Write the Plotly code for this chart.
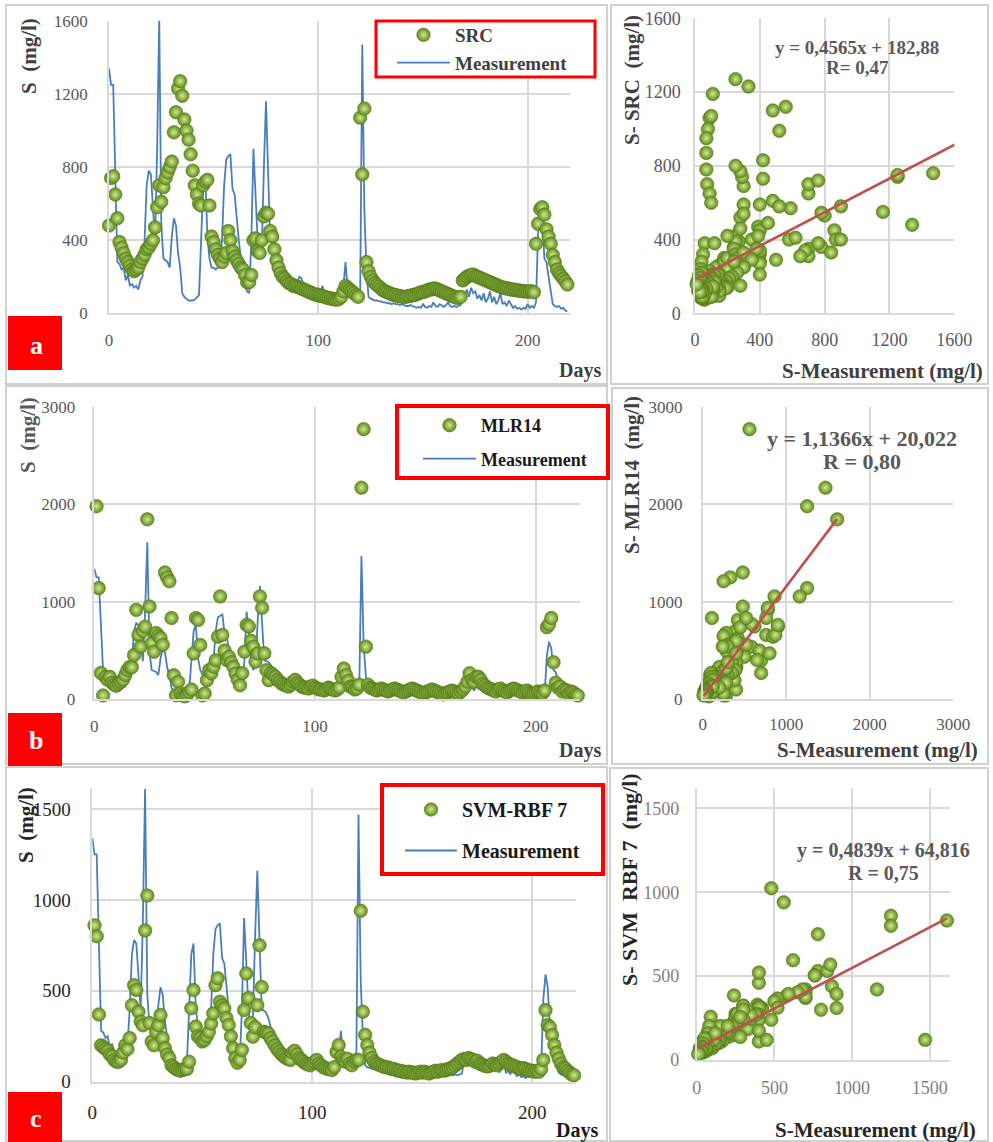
import plotly.graph_objects as go

# ---------------- data ----------------
days = list(range(220))

measurement = [
    1340, 1250, 1250, 700, 280, 270, 240, 250, 180, 210,
    150, 160, 140, 150, 130, 180, 200, 400, 700, 780,
    760, 580, 390, 900, 1610, 480, 300, 290, 280, 250,
    420, 520, 480, 330, 250, 110, 90, 80, 70, 70,
    70, 75, 90, 100, 400, 700, 760, 420, 300, 250,
    250, 240, 250, 260, 400, 700, 840, 860, 870, 680,
    650, 500, 400, 300, 200, 150, 120, 110, 400, 900,
    620, 400, 300, 350, 800, 1160, 780, 400, 390, 380,
    350, 300, 260, 230, 210, 190, 170, 160, 150, 150,
    170, 200, 190, 150, 130, 120, 110, 110, 100, 110,
    140, 120, 150, 100, 80, 70, 60, 60, 55, 60,
    60, 70, 150, 280, 130, 110, 100, 110, 100, 100,
    100, 1470, 560, 240, 90, 80, 75, 70, 70, 65,
    65, 60, 60, 55, 55, 50, 55, 50, 50, 45,
    50, 45, 40, 40, 45, 40, 35, 30, 35, 30,
    50, 35, 30, 40, 35, 60, 40, 35, 50, 40,
    35, 45, 60, 40, 35, 40, 35, 40, 45, 120,
    100, 130, 90, 140, 110, 120, 80, 100, 70, 110,
    60, 80, 120, 60, 90, 50, 70, 110, 50, 60,
    40, 70, 50, 30, 40, 25, 30, 20, 30, 25,
    50, 30, 40, 30, 60, 450, 590, 520, 300, 280,
    200, 120, 50, 40, 35, 40, 25, 30, 15, 10,
]

src = [
    480, 740, 750, 650, 520, 390, 360, 330, 300, 280,
    260, 240, 230, 240, 250, 280, 300, 320, 350, 360,
    380, 400, 470, 580, 700, 610, 690, 740, 770, 800,
    830, 990, 1100, 1230, 1270, 1190, 1060, 1000, 950, 870,
    780, 700, 650, 600, 590, 700, 720, 730, 590, 420,
    390, 350, 320, 300, 280, 310, 330, 450, 400, 340,
    310, 290, 270, 250, 240, 210, 170, 170, 210, 400,
    410, 340, 330, 400, 530, 550, 545, 450, 420, 350,
    290, 250, 220, 200, 190, 175, 165, 160, 150, 150,
    145, 140, 135, 130, 125, 120, 115, 110, 105, 100,
    100, 95, 95, 90, 85, 85, 80, 80, 75, 75,
    80, 90, 120, 150, 140, 130, 120, 110, 100, 90,
    1070, 760, 1120, 280, 230, 200, 180, 165, 155, 145,
    135, 125, 120, 115, 110, 105, 100, 100, 95, 95,
    90, 90, 90, 95, 95, 100, 100, 105, 110, 115,
    115, 120, 125, 130, 130, 135, 135, 130, 125, 120,
    115, 110, 105, 100, 95, 90, 85, 85, 90, 180,
    190, 200, 205, 210, 212, 205, 200, 195, 190, 185,
    180, 175, 170, 165, 160, 155, 150, 145, 140, 140,
    135, 135, 130, 130, 128, 125, 125, 122, 120, 120,
    118, 120, 120, 115, 380, 490, 570, 580, 540, 460,
    420, 380, 320, 280, 240, 220, 205, 190, 175, 157,
]

mlr14 = [
    None, 1980, 1140, 270, 40, 230, 200, 230, 170, 150,
    140, 160, 180, 200, 250, 300, 330, 330, 453, 917,
    660, 540, 700, 745, 1845, 951, 577, 488, 680, 650,
    628, 560, 1300, 1250, 1210, 834, 247, 41, 179, 60,
    40, 30, 50, 76, 100, 470, 834, 814, 557, 40,
    60, 196, 299, 268, 333, 400, 642, 1055, 660, 500,
    402, 436, 380, 333, 265, 200, 144, 268, 488, 763,
    747, 600, 540, 385, 471, 1055, 938, 471, 299, 196,
    270, 250, 230, 200, 180, 160, 150, 140, 130, 150,
    180, 200, 170, 150, 130, 120, 120, 110, 130, 140,
    120, 110, 100, 100, 90, 100, 120, 110, 100, 90,
    100, 120, 230, 316, 250, 190, 130, 120, 100, 110,
    150, 2170, 2770, 540, 150, 120, 110, 100, 90, 100,
    110, 100, 90, 80, 90, 100, 110, 100, 90, 80,
    70, 80, 90, 100, 110, 100, 90, 80, 70, 60,
    70, 80, 90, 100, 90, 80, 70, 60, 50, 60,
    70, 80, 90, 80, 70, 60, 80, 100, 130, 180,
    268, 200, 180, 230, 230, 200, 160, 140, 120, 110,
    100, 90, 80, 100, 110, 90, 80, 70, 90, 100,
    110, 100, 90, 80, 70, 80, 90, 70, 60, 60,
    70, 80, 70, 60, 90, 740, 770, 834, 380, 170,
    120, 130, 80, 100, 90, 60, 80, 70, 50, 40,
]

svm_rbf7 = [
    None, 860, 800, 370, 200, 190, 180, 170, 150, 140,
    120, 110, 110, 120, 160, 200, 180, 240, 421, 531,
    505, 385, 330, 310, 832, 1024, 323, 221, 200, 275,
    310, 367, 240, 185, 150, 130, 90, 80, 70, 65,
    60, 65, 70, 70, 110, 404, 504, 303, 250, 240,
    221, 230, 250, 275, 320, 376, 531, 569, 440, 420,
    404, 350, 312, 250, 185, 130, 104, 120, 175, 394,
    595, 460, 323, 248, 300, 421, 750, 521, 275, 270,
    265, 240, 221, 200, 180, 165, 150, 140, 130, 125,
    120, 160, 170, 150, 130, 120, 110, 100, 95, 90,
    100, 110, 120, 100, 90, 80, 75, 70, 70, 65,
    80, 164, 202, 137, 120, 110, 126, 100, 90, 110,
    120, 120, 940, 385, 258, 202, 160, 130, 110, 100,
    95, 90, 85, 80, 80, 75, 70, 70, 65, 60,
    60, 55, 55, 50, 55, 50, 50, 45, 50, 55,
    50, 55, 50, 45, 50, 55, 60, 55, 60, 65,
    60, 65, 70, 75, 80, 90, 100, 110, 120, 125,
    120, 130, 125, 120, 110, 115, 100, 95, 90, 85,
    85, 90, 100, 95, 90, 100, 110, 120, 110, 100,
    95, 90, 85, 80, 75, 70, 75, 70, 65, 60,
    60, 55, 60, 55, 70, 120, 394, 312, 300, 257,
    202, 160, 128, 100, 80, 73, 60, 50, 40, 36,
]

# printed trend-line equations (slope, intercept) and labels
fit_src = (0.4565, 182.88)
fit_mlr = (1.1366, 20.022)
fit_svm = (0.4839, 64.816)
eq_src = ["y = 0,4565x + 182,88", "R= 0,47"]
eq_mlr = ["y = 1,1366x + 20,022", "R = 0,80"]
eq_svm = ["y = 0,4839x + 64,816", "R = 0,75"]

# ---------------- helpers ----------------
W, H = 993, 1142
SERIF = "Liberation Serif"


def px(x):
    return x / W


def py(y):
    return 1 - y / H


GREEN = dict(size=13.5, color="#5F8A1C",
             gradient=dict(type="radial", color="#D2EA8E"),
             line=dict(width=0.6, color="#557A1A"))
BLUE = "#4A7EBB"
RED = "#C0504D"
GRID = "#D9D9D9"

fig = go.Figure()


def ts_panel(ax, model, name, legend):
    xa = "x" if ax == 1 else f"x{ax}"
    ya = "y" if ax == 1 else f"y{ax}"
    fig.add_trace(go.Scatter(x=days, y=measurement, mode="lines", name="Measurement",
                             line=dict(color=BLUE, width=1.8), xaxis=xa, yaxis=ya,
                             legend=legend, legendrank=2, legendgroup=legend + "m"))
    fig.add_trace(go.Scatter(x=days, y=model, mode="markers", name=name, marker=GREEN,
                             xaxis=xa, yaxis=ya, legend=legend, legendrank=1,
                             legendgroup=legend + "s", cliponaxis=False))


def sc_panel(ax, model, fit):
    xa, ya = f"x{ax}", f"y{ax}"
    fig.add_trace(go.Scatter(x=measurement, y=model, mode="markers", marker=GREEN,
                             xaxis=xa, yaxis=ya, showlegend=False, cliponaxis=False))
    xs = [min(measurement), max(measurement)]
    fig.add_trace(go.Scatter(x=xs, y=[fit[0] * v + fit[1] for v in xs], mode="lines",
                             line=dict(color=RED, width=2.6), xaxis=xa, yaxis=ya,
                             showlegend=False, cliponaxis=False))


ts_panel(1, src, "SRC", "legend")
sc_panel(2, src, fit_src)
ts_panel(3, mlr14, "MLR14", "legend2")
sc_panel(4, mlr14, fit_mlr)
ts_panel(5, svm_rbf7, "SVM-RBF 7", "legend3")
sc_panel(6, svm_rbf7, fit_svm)


def axis(domain, rng, dtick, anchor, fs, color, tlen):
    return dict(domain=domain, range=rng, dtick=dtick, tick0=0, showgrid=True,
                gridcolor=GRID, gridwidth=1.5, zeroline=False, showline=True,
                linecolor=GRID, linewidth=1.5, ticks="outside", ticklen=tlen,
                tickcolor="rgba(0,0,0,0)", anchor=anchor, fixedrange=True,
                automargin=False,
                tickfont=dict(family=SERIF, size=fs, color=color))


lay = {}
# row a
lay["xaxis"] = axis([px(109), px(569.5)], [0, 220], 100, "y", 17, "#595959", 11)
lay["yaxis"] = axis([py(313.3), py(20.8)], [0, 1600], 400, "x", 17, "#595959", 16)
lay["xaxis2"] = axis([px(695), px(954.3)], [0, 1600], 400, "y2", 18, "#595959", 9)
lay["yaxis2"] = axis([py(313.3), py(18.3)], [0, 1600], 400, "x2", 18, "#595959", 9)
# row b
lay["xaxis3"] = axis([px(94.3), px(580)], [0, 220], 100, "y3", 17, "#595959", 11)
lay["yaxis3"] = axis([py(699.3), py(406.7)], [0, 3000], 1000, "x3", 17, "#595959", 14)
lay["xaxis4"] = axis([px(702.7), px(953.3)], [0, 3000], 1000, "y4", 17, "#595959", 9)
lay["yaxis4"] = axis([py(699.3), py(406.7)], [0, 3000], 1000, "x4", 17, "#595959", 15)
# row c
lay["xaxis5"] = axis([px(92.3), px(576.3)], [0, 220], 100, "y5", 19, "#262626", 13)
lay["yaxis5"] = axis([py(1081.7), py(788.1)], [0, 1615], 500, "x5", 19, "#262626", 16)
lay["xaxis6"] = axis([px(696.7), px(950)], [0, 1630], 500, "y6", 18, "#7F7F7F", 11)
lay["yaxis6"] = axis([py(1060), py(788.3)], [0, 1620], 500, "x6", 18, "#7F7F7F", 12)

shapes = []
# panel borders
for (x0, x1, y0, y1) in [(6, 607, 5, 384), (611, 988, 5, 384),
                         (6, 607, 386, 764), (612, 988, 388, 764),
                         (6, 607, 767, 1141), (610, 988, 768, 1141)]:
    shapes.append(dict(type="rect", xref="paper", yref="paper", x0=px(x0), x1=px(x1),
                       y0=py(y1), y1=py(y0), line=dict(color="#D0D0D0", width=2)))
# red letter boxes
for (y0, y1) in [(316, 370), (713, 766), (1092, 1142)]:
    shapes.append(dict(type="rect", xref="paper", yref="paper", x0=px(8), x1=px(62),
                       y0=py(y1), y1=py(y0), line=dict(width=0), fillcolor="#FF0000"))
# legend frames
for (x0, x1, y0, y1, lw) in [(376, 595, 21, 77, 3), (397, 608, 406, 478, 4),
                             (382, 603, 785, 874, 4)]:
    shapes.append(dict(type="rect", xref="paper", yref="paper", x0=px(x0), x1=px(x1),
                       y0=py(y1), y1=py(y0), line=dict(color="#FF0000", width=lw),
                       fillcolor="white"))

ann = []


def text(x, y, t, size, color="#404040", bold=True, angle=0):
    ann.append(dict(x=px(x), y=py(y), xref="paper", yref="paper", text=t, showarrow=False,
                    textangle=angle, xanchor="center", yanchor="middle",
                    font=dict(family=SERIF, size=size, color=color,
                              weight="bold" if bold else "normal")))


NB = "\u00a0"
# letters
text(36, 345, "a", 26, "white")
text(36, 740, "b", 26, "white")
text(36, 1118, "c", 26, "white")
# row a titles
text(29, 56, f"S{NB}{NB}(mg/l)", 21, "#404040", angle=-90)
text(580, 370, "Days", 20, "#404040")
text(632, 80, f"S-{NB}SRC{NB}{NB}(mg/l)", 21, "#404040", angle=-90)
text(882, 371, "S-Measurement (mg/l)", 21, "#404040")
text(857, 47, eq_src[0], 19, "#595959")
text(857, 68, eq_src[1], 19, "#595959")
# row b titles
text(28, 435, f"S{NB}{NB}(mg/l)", 21, "#595959", angle=-90)
text(580, 750, "Days", 20, "#404040")
text(632, 475, f"S-{NB}MLR14{NB}{NB}(mg/l)", 21, "#404040", angle=-90)
text(877, 750, "S-Measurement (mg/l)", 21, "#404040")
text(862, 438, eq_mlr[0], 22, "#595959")
text(862, 462, eq_mlr[1], 22, "#595959")
# row c titles
text(26, 825, f"S{NB}{NB}(mg/l)", 21, "#262626", angle=-90)
text(577, 1130, "Days", 20, "#1A1A1A")
text(630, 880, f"S-{NB}SVM{NB}{NB}RBF{NB}7{NB}{NB}(mg/l)", 22, "#262626", angle=-90)
text(875, 1130, "S-Measurement (mg/l)", 21, "#262626")
text(883, 850, eq_svm[0], 20, "#595959")
text(883, 873, eq_svm[1], 20, "#595959")


def leg(x, yc, fs, color, gap, iw):
    return dict(x=px(x), y=py(yc), xanchor="left", yanchor="middle",
                bgcolor="rgba(0,0,0,0)", borderwidth=0, itemwidth=iw,
                tracegroupgap=gap, traceorder="grouped",
                font=dict(family=SERIF, size=fs, color=color, weight="bold"))


lay["legend"] = leg(392, 49, 19, "#404040", 0, 53)
lay["legend2"] = leg(418, 442, 18, "#1A1A1A", 7, 53)
lay["legend3"] = leg(400, 830, 20, "#1A1A1A", 12, 52)

fig.update_layout(width=W, height=H,
                  margin=dict(l=0, r=0, t=0, b=0, pad=0, autoexpand=False),
                  paper_bgcolor="white", plot_bgcolor="white", shapes=shapes,
                  annotations=ann, showlegend=True, **lay)

fig.write_html("out.html", config={"displayModeBar": False},
               post_script="document.body.style.margin='0';"
                           "document.body.style.overflow='hidden';")
